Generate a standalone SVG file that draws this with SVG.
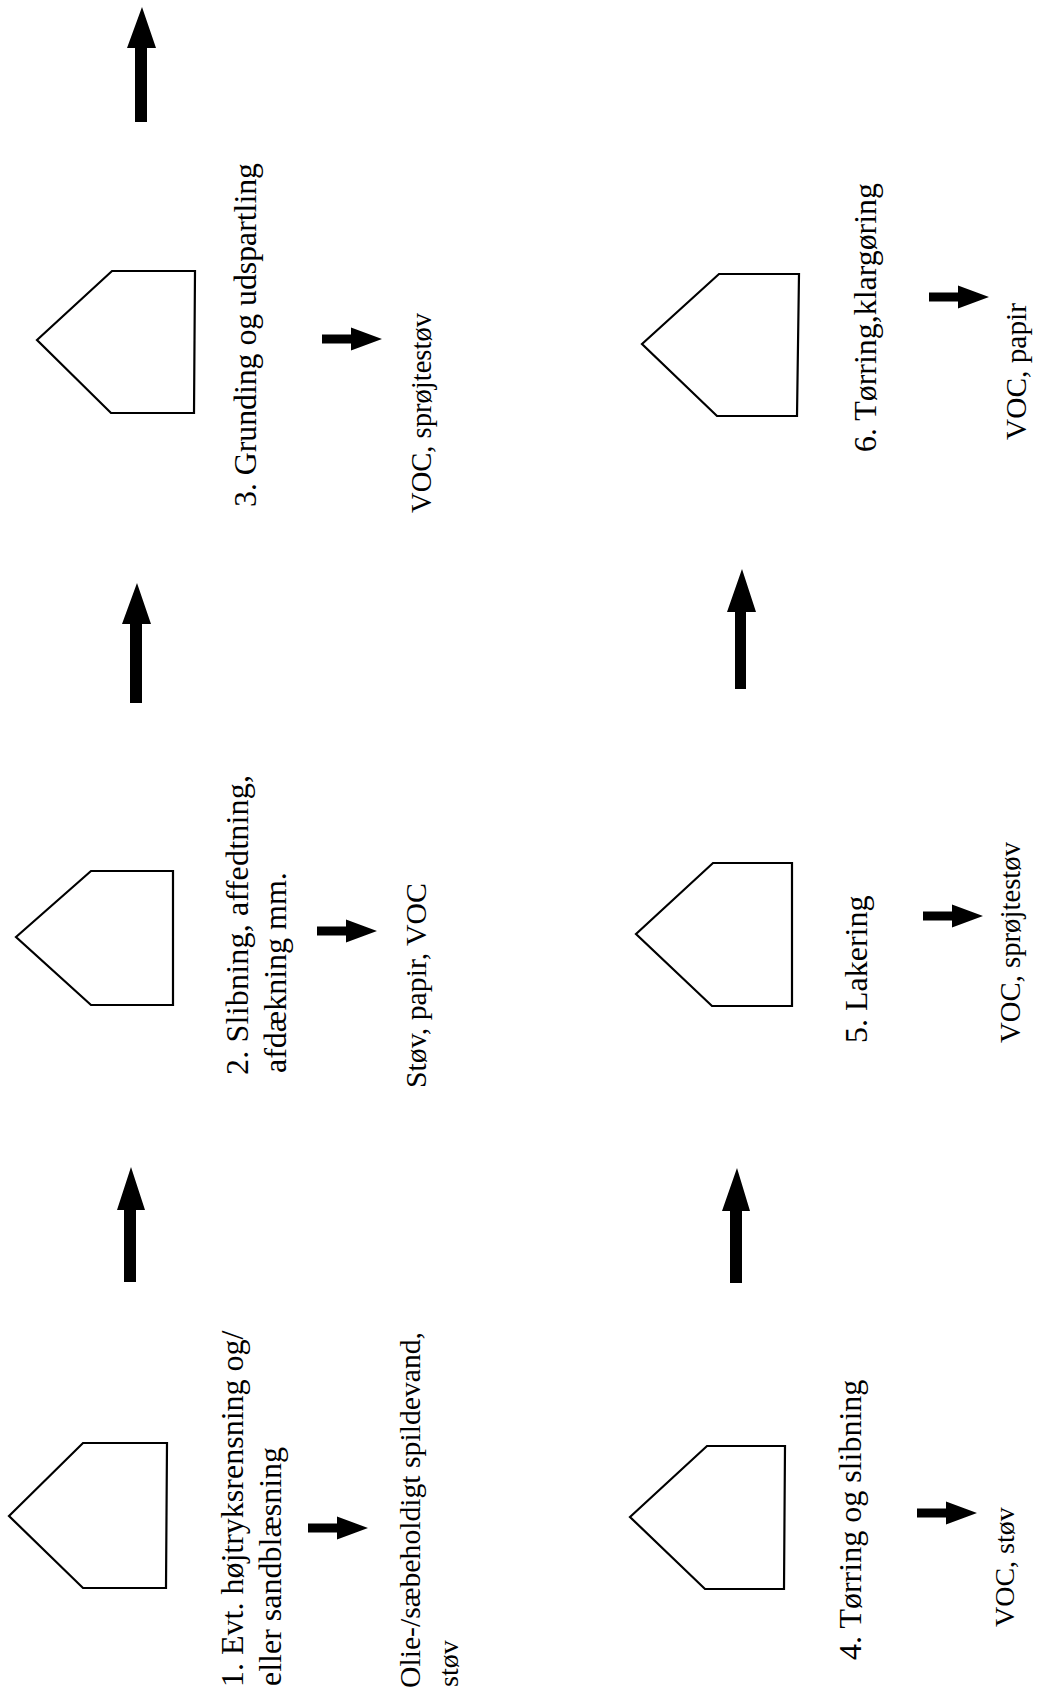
<svg xmlns="http://www.w3.org/2000/svg" width="1039" height="1697" viewBox="0 0 1039 1697">
<style>
.box{fill:#fff;stroke:#000;stroke-width:2.2;stroke-linejoin:miter}
.lbl{font-family:"Liberation Serif","Times New Roman",serif;font-size:32px;fill:#000}
.out{font-family:"Liberation Serif","Times New Roman",serif;font-size:30px;fill:#000}
.arr{fill:#000;stroke:none}
</style>
<defs>
<path id="small" d="M0,-4.5 H29 V-11.5 L60,0 L29,11.5 V4.5 H0 Z"/>
</defs>
<rect width="1039" height="1697" fill="#fff"/>

<g id="connectors">
<path class="arr" d="M142,7 L156,48 H147 V122 H135 V48 H127 Z"/>
<path class="arr" d="M137,583 L151,624 H142 V703 H130 V624 H122 Z"/>
<path class="arr" d="M131,1167 L145,1210 H136 V1282 H124 V1210 H117 Z"/>
<path class="arr" d="M737,1168 L750,1211 H742 V1283 H730 V1211 H722 Z"/>
<path class="arr" d="M742,569 L756,612 H746 V689 H735 V612 H727 Z"/>
<use href="#small" class="arr" x="308" y="1528"/>
<use href="#small" class="arr" x="317" y="931"/>
<use href="#small" class="arr" x="322" y="339"/>
<use href="#small" class="arr" x="917" y="1513"/>
<use href="#small" class="arr" x="923" y="916"/>
<use href="#small" class="arr" x="929" y="297"/>
</g>

<g id="node1">
<polygon class="box" points="9,1516 83,1443 167,1443 166,1588 83,1588"/>
<text class="lbl" transform="translate(243,1687) rotate(-90)">1. Evt. højtryksrensning og/</text>
<text class="lbl" transform="translate(281,1686) rotate(-90)">eller sandblæsning</text>
</g>
<g id="out1">
<text class="out" transform="translate(420,1688) rotate(-90)" textLength="356" lengthAdjust="spacingAndGlyphs">Olie-/sæbeholdigt spildevand,</text>
<text class="out" transform="translate(458,1687) rotate(-90)" style="font-size:28px">støv</text>
</g>

<g id="node2">
<polygon class="box" points="16,937 91,871 173,871 173,1005 91,1005"/>
<text class="lbl" transform="translate(248,1075) rotate(-90)" textLength="300" lengthAdjust="spacing">2. Slibning, affedtning,</text>
<text class="lbl" transform="translate(286,1073) rotate(-90)">afdækning mm.</text>
</g>
<g id="out2">
<text class="out" transform="translate(426,1088) rotate(-90)" textLength="205" lengthAdjust="spacingAndGlyphs">Støv, papir, VOC</text>
</g>

<g id="node3">
<polygon class="box" points="37,340 112,271 195,271 194,413 111,413"/>
<text class="lbl" transform="translate(256,507) rotate(-90)" textLength="344" lengthAdjust="spacingAndGlyphs">3. Grunding og udspartling</text>
</g>
<g id="out3">
<text class="out" transform="translate(431,513) rotate(-90)" textLength="200" lengthAdjust="spacingAndGlyphs">VOC, sprøjtestøv</text>
</g>

<g id="node4">
<polygon class="box" points="630,1517 707,1446 785,1446 784,1589 705,1589"/>
<text class="lbl" transform="translate(861,1660) rotate(-90)">4. Tørring og slibning</text>
</g>
<g id="out4">
<text class="out" transform="translate(1014,1627) rotate(-90)" style="font-size:28px">VOC, støv</text>
</g>

<g id="node5">
<polygon class="box" points="636,934 713,863 792,863 792,1006 712,1006"/>
<text class="lbl" transform="translate(867,1043) rotate(-90)">5. Lakering</text>
</g>
<g id="out5">
<text class="out" transform="translate(1020,1043) rotate(-90)" textLength="201" lengthAdjust="spacingAndGlyphs">VOC, sprøjtestøv</text>
</g>

<g id="node6">
<polygon class="box" points="642,344 719,274 799,274 797,416 717,416"/>
<text class="lbl" transform="translate(876,452) rotate(-90)" textLength="269" lengthAdjust="spacingAndGlyphs">6. Tørring,klargøring</text>
</g>
<g id="out6">
<text class="out" transform="translate(1026,440) rotate(-90)" textLength="137" lengthAdjust="spacingAndGlyphs">VOC, papir</text>
</g>
</svg>
